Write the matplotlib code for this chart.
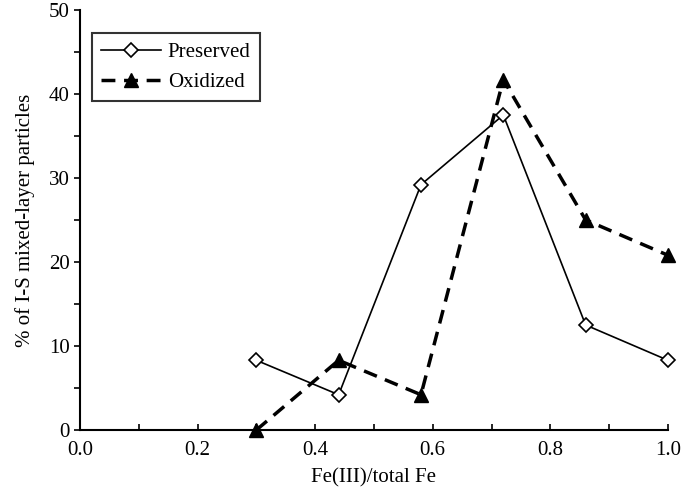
import matplotlib
matplotlib.use('Agg')
import matplotlib.pyplot as plt
from matplotlib.ticker import MultipleLocator

plt.rcParams['font.family'] = ['Liberation Serif', 'DejaVu Serif']

fe_ratio = [0.30, 0.44, 0.58, 0.72, 0.86, 1.00]
preserved = [8.3, 4.2, 29.2, 37.5, 12.5, 8.3]
oxidized = [0.0, 8.3, 4.2, 41.7, 25.0, 20.8]

fig = plt.figure(figsize=(6.83, 4.96), dpi=100)
ax = fig.add_axes([0.117, 0.133, 0.861, 0.847])

ax.plot(fe_ratio, preserved, color='black', lw=1.2, marker='D', markersize=7,
        markerfacecolor='white', markeredgecolor='black', markeredgewidth=1.2,
        label='Preserved', clip_on=False, zorder=3)
ax.plot(fe_ratio, oxidized, color='black', lw=2.5, ls=(0, (4, 2.5)), marker='^',
        markersize=10, markerfacecolor='black', markeredgecolor='black',
        label='Oxidized', clip_on=False, zorder=4)

ax.set_xlim(0, 1.0)
ax.set_ylim(0, 50)
ax.xaxis.set_major_locator(MultipleLocator(0.2))
ax.xaxis.set_minor_locator(MultipleLocator(0.1))
ax.yaxis.set_major_locator(MultipleLocator(10))
ax.yaxis.set_minor_locator(MultipleLocator(5))
ax.xaxis.set_major_formatter(plt.FormatStrFormatter('%.1f'))

ax.spines['top'].set_visible(False)
ax.spines['right'].set_visible(False)
ax.spines['left'].set_linewidth(1.5)
ax.spines['bottom'].set_linewidth(1.5)
ax.tick_params(axis='x', which='both', direction='in', length=4, width=1.2,
               labelsize=15, pad=8)
ax.tick_params(axis='y', which='both', direction='out', length=4, width=1.2,
               labelsize=15)

ax.set_xlabel('Fe(III)/total Fe', fontsize=15, labelpad=6)
ax.set_ylabel('% of I-S mixed-layer particles', fontsize=15, labelpad=10)

leg = ax.legend(loc='upper left', bbox_to_anchor=(0.02, 0.945), fontsize=15,
                frameon=True, fancybox=False, edgecolor='black',
                handlelength=2.9, handletextpad=0.3, borderpad=0.45,
                labelspacing=0.5, borderaxespad=0)
leg.get_frame().set_linewidth(1.5)

fig.savefig('out.png', dpi=100)
